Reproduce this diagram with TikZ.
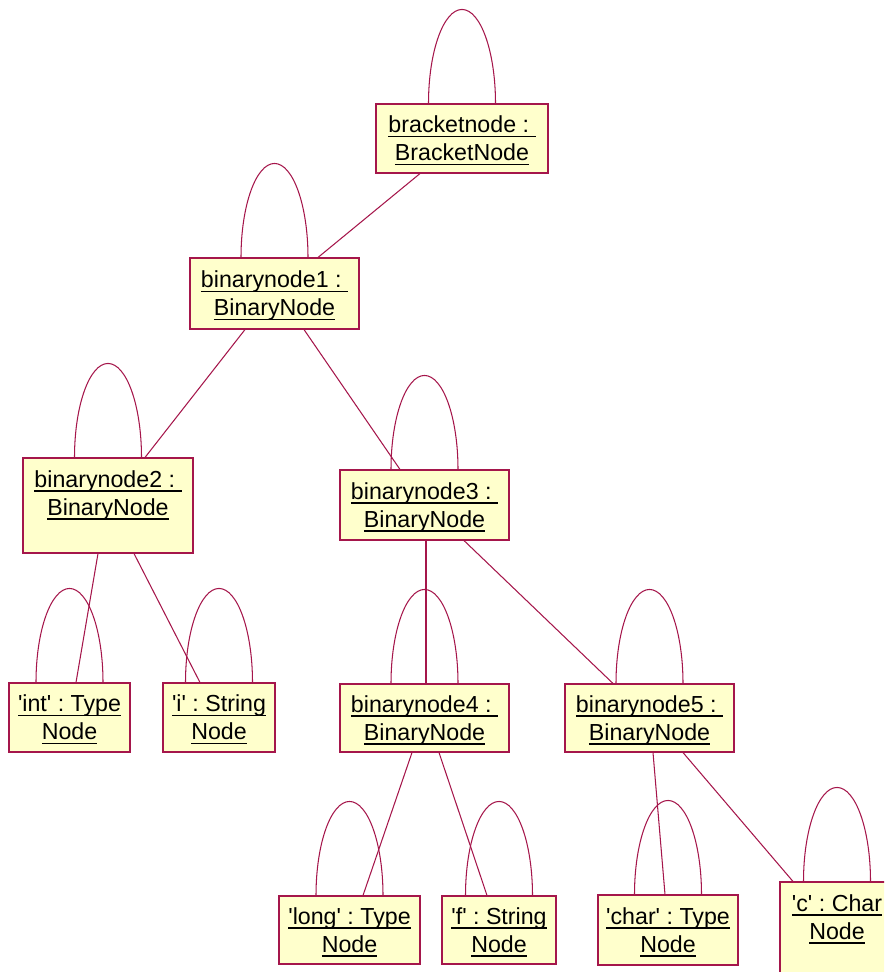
\documentclass[tikz,border=0pt]{standalone}
\usepackage{fontspec}
\setmainfont{Liberation Sans}[Ligatures=TeXOff]
\usetikzlibrary{backgrounds}
\frenchspacing

\definecolor{umlline}{RGB}{165,22,75}
\definecolor{umlfill}{RGB}{255,255,204}

% underlined object name, line at a fixed distance below the baseline
\newcommand\ulin[1]{\setbox0=\hbox{#1}\rlap{\rule[-4.6pt]{\wd0}{1.4pt}}\box0}
% uniform line height for the object labels
\newcommand\lstrut{\rule[-6pt]{0pt}{28pt}}

\tikzset{
  obj/.style={rectangle, draw=umlline, fill=umlfill, line width=1.1pt,
    inner sep=0pt, align=center, text=black,
    font=\fontsize{23.2}{28}\selectfont},
  link/.style={draw=umlline, line width=1.05pt},
}
% self association drawn as an arch above an object box
\newcommand\selfloop[1]{%
  \draw[link] ([xshift=-33.5pt]#1.north)
    arc[start angle=180, end angle=0, x radius=33.5pt, y radius=94pt];}

\begin{document}
\begin{tikzpicture}[x=1pt, y=-1pt]
\useasboundingbox (0,0) rectangle (884,972);
\clip (0,0) rectangle (884,972);

% object boxes
\node[obj, minimum width=172pt, minimum height=69pt] (bracket) at (462,138.5)
  {\lstrut\ulin{bracketnode :\ }\\\lstrut\ulin{BracketNode}};
\node[obj, minimum width=169pt, minimum height=71pt] (bn1) at (274.5,293.5)
  {\lstrut\ulin{binarynode1 :\ }\\\lstrut\ulin{BinaryNode}};
\node[obj, minimum width=170pt, minimum height=95pt] (bn2) at (108,505.5)
  {\lstrut\ulin{binarynode2 :\ }\\\lstrut\ulin{BinaryNode}\\[-3pt]\lstrut};
\node[obj, minimum width=169pt, minimum height=70pt] (bn3) at (424.5,505)
  {\lstrut\ulin{binarynode3 :\ }\\\lstrut\ulin{BinaryNode}};
\node[obj, minimum width=121pt, minimum height=69pt] (int) at (69.5,717.5)
  {\lstrut\ulin{'int' : Type}\\\lstrut\ulin{Node}};
\node[obj, minimum width=112pt, minimum height=69pt] (ident) at (219,717.5)
  {\lstrut\ulin{'i' : String}\\\lstrut\ulin{Node}};
\node[obj, minimum width=169pt, minimum height=68pt] (bn4) at (424.5,718)
  {\lstrut\ulin{binarynode4 :\ }\\\lstrut\ulin{BinaryNode}};
\node[obj, minimum width=169pt, minimum height=68pt] (bn5) at (649.5,718)
  {\lstrut\ulin{binarynode5 :\ }\\\lstrut\ulin{BinaryNode}};
\node[obj, minimum width=141pt, minimum height=68pt] (long) at (349.5,930)
  {\lstrut\ulin{'long' : Type}\\\lstrut\ulin{Node}};
\node[obj, minimum width=114pt, minimum height=68pt] (fname) at (499,930)
  {\lstrut\ulin{'f' : String}\\\lstrut\ulin{Node}};
\node[obj, minimum width=140pt, minimum height=70pt] (char) at (668,930)
  {\lstrut\ulin{'char' : Type}\\\lstrut\ulin{Node}};
\node[obj, minimum width=114pt, minimum height=95pt] (cval) at (837,929.5)
  {\lstrut\ulin{'c' : Char}\\\lstrut\ulin{Node}\\[-3pt]\lstrut};

\begin{pgfonlayer}{background}
  % self associations
  \foreach \n in {bracket,bn1,bn2,bn3,int,ident,bn4,bn5,long,fname,char,cval}
    {\selfloop{\n}}
  % links between objects
  \draw[link] ([xshift=-42pt]bracket.south) -- ([xshift=43.5pt]bn1.north);
  \draw[link] ([xshift=-29.5pt]bn1.south) -- ([xshift=37pt]bn2.north);
  \draw[link] ([xshift=29.5pt]bn1.south) -- ([xshift=-24.5pt]bn3.north);
  \draw[link] ([xshift=-10pt]bn2.south) -- ([xshift=6.5pt]int.north);
  \draw[link] ([xshift=26pt]bn2.south) -- ([xshift=-19pt]ident.north);
  \draw[link] ([xshift=1.5pt]bn3.south) -- ([xshift=1.5pt]bn4.north);
  \draw[link] ([xshift=39.5pt]bn3.south) -- ([xshift=-36.5pt]bn5.north);
  \draw[link] ([xshift=-12.5pt]bn4.south) -- ([xshift=13.5pt]long.north);
  \draw[link] ([xshift=14.5pt]bn4.south) -- ([xshift=-12pt]fname.north);
  \draw[link] ([xshift=3.5pt]bn5.south) -- ([xshift=-3pt]char.north);
  \draw[link] ([xshift=33.5pt]bn5.south) -- ([xshift=-44pt]cval.north);
\end{pgfonlayer}
\end{tikzpicture}
\end{document}
